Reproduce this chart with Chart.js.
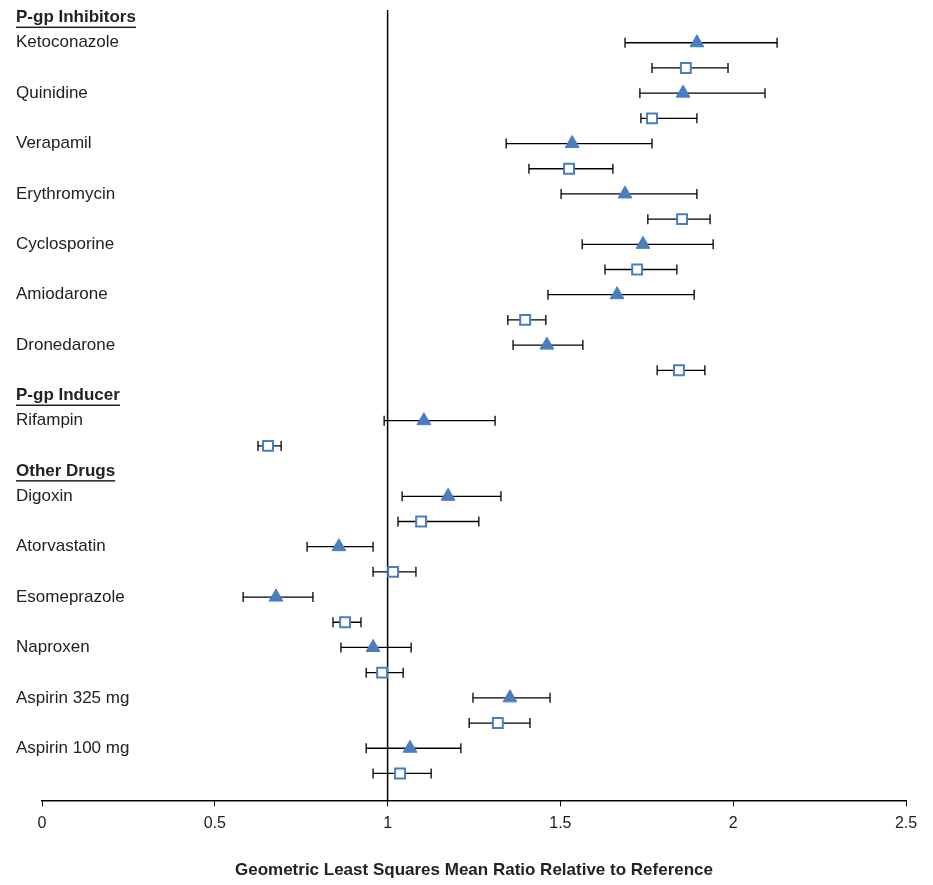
<!DOCTYPE html>
<html><head><meta charset="utf-8">
<script src="https://cdn.jsdelivr.net/npm/chart.js@4"></script>
<style>body{margin:0;background:#fff}#wrap{width:933px;height:885px}</style>
</head><body><div id="wrap"><canvas id="c"></canvas></div>
<script>
// row labels: [text, slot, isHeader]
const rowLabels = [
  ["P-gp Inhibitors", 0, true], ["Ketoconazole", 1], ["Quinidine", 3], ["Verapamil", 5],
  ["Erythromycin", 7], ["Cyclosporine", 9], ["Amiodarone", 11], ["Dronedarone", 13],
  ["P-gp Inducer", 15, true], ["Rifampin", 16],
  ["Other Drugs", 18, true], ["Digoxin", 19], ["Atorvastatin", 21], ["Esomeprazole", 23],
  ["Naproxen", 25], ["Aspirin 325 mg", 27], ["Aspirin 100 mg", 29]
];
const triSlots = [1, 3, 5, 7, 9, 11, 13, 16, 19, 21, 23, 25, 27, 29];
const triMean = [1.895, 1.855, 1.534, 1.687, 1.739, 1.664, 1.461, 1.105, 1.175, 0.859, 0.677, 0.958, 1.354, 1.065];
const triLow  = [1.687, 1.73, 1.343, 1.502, 1.563, 1.464, 1.363, 0.99, 1.042, 0.767, 0.582, 0.865, 1.247, 0.938];
const triHigh = [2.127, 2.092, 1.765, 1.895, 1.942, 1.887, 1.565, 1.311, 1.328, 0.958, 0.784, 1.068, 1.47, 1.212];
const sqSlots = [2, 4, 6, 8, 10, 12, 14, 17, 20, 22, 24, 26, 28, 30];
const sqMean = [1.863, 1.765, 1.525, 1.852, 1.722, 1.398, 1.843, 0.654, 1.097, 1.016, 0.877, 0.984, 1.319, 1.036];
const sqLow  = [1.765, 1.733, 1.409, 1.753, 1.629, 1.348, 1.78, 0.625, 1.03, 0.958, 0.842, 0.938, 1.236, 0.958];
const sqHigh = [1.985, 1.895, 1.652, 1.933, 1.837, 1.458, 1.918, 0.692, 1.264, 1.082, 0.923, 1.045, 1.412, 1.126];
const xTicks = [0, 0.5, 1, 1.5, 2, 2.5];
const blue = "#4a7ebf";

const extras = {
  id: "extras",
  beforeDatasetsDraw(chart) {
    const {ctx, scales: {x, y}, chartArea} = chart;
    ctx.save();
    ctx.strokeStyle = "#000"; ctx.lineWidth = 1.5;
    const x1 = x.getPixelForValue(1);
    ctx.beginPath(); ctx.moveTo(x1, chartArea.top); ctx.lineTo(x1, chartArea.bottom); ctx.stroke();
    ctx.lineWidth = 1.3;
    const bars = (slots, lo, hi) => slots.forEach((s, i) => {
      const py = y.getPixelForValue(s), a = x.getPixelForValue(lo[i]), b = x.getPixelForValue(hi[i]);
      ctx.beginPath();
      ctx.moveTo(a, py); ctx.lineTo(b, py);
      ctx.moveTo(a, py - 5); ctx.lineTo(a, py + 5);
      ctx.moveTo(b, py - 5); ctx.lineTo(b, py + 5);
      ctx.stroke();
    });
    bars(triSlots, triLow, triHigh);
    bars(sqSlots, sqLow, sqHigh);
    ctx.fillStyle = "#222"; ctx.textBaseline = "middle";
    rowLabels.forEach(([t, s, h]) => {
      const py = y.getPixelForValue(s);
      ctx.font = (h ? "bold " : "") + "17px 'Liberation Sans', Arial, sans-serif";
      ctx.fillText(t, 16, py);
      if (h) {
        const w = ctx.measureText(t).width;
        ctx.fillRect(16, py + 9, w, 1.5);
      }
    });
    ctx.restore();
  }
};

new Chart(document.getElementById("c"), {
  type: "scatter",
  data: {
    datasets: [
      { data: triSlots.map((s, i) => ({x: triMean[i], y: s})), pointStyle: "triangle",
        pointRadius: 8, backgroundColor: blue, borderColor: blue },
      { data: sqSlots.map((s, i) => ({x: sqMean[i], y: s})), pointStyle: "rect",
        pointRadius: 7, backgroundColor: "#fff", borderColor: blue, borderWidth: 2 }
    ]
  },
  options: {
    responsive: true, maintainAspectRatio: false, animation: false,
    layout: { padding: { left: 42, right: 27, top: 10, bottom: 0 } },
    plugins: { legend: { display: false }, tooltip: { enabled: false } },
    scales: {
      x: {
        type: "linear", min: 0, max: 2.5,
        afterBuildTicks: a => { a.ticks = xTicks.map(v => ({value: v})); },
        grid: { drawOnChartArea: false, drawTicks: true, tickLength: 6, color: "#000" },
        border: { color: "#000", width: 1.5 },
        ticks: { color: "#222", font: { size: 16, family: "'Liberation Sans', Arial" }, padding: 8,
          callback: v => String(v) },
        title: { display: true, text: "Geometric Least Squares Mean Ratio Relative to Reference",
          color: "#222", font: { size: 17, weight: "bold", family: "'Liberation Sans', Arial" },
          padding: { top: 19 } }
      },
      y: { type: "linear", reverse: true, min: -0.3, max: 31.07, display: false }
    }
  },
  plugins: [extras]
});
</script></body></html>
